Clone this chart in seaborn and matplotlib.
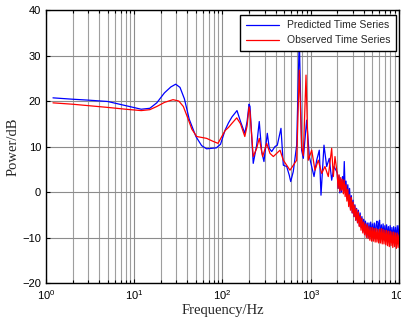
import numpy as np
import pandas as pd
import matplotlib
matplotlib.use('Agg')
import matplotlib.pyplot as plt
import seaborn as sns
from matplotlib.ticker import LogLocator, NullFormatter

# Predicted series (blue)
freq_pred = [1.2, 2, 3, 5, 8, 12, 15, 18, 22, 26, 29.5, 33, 37, 42, 50, 58, 66, 75, 85, 95,
             107, 117, 128, 146, 160, 179, 190, 200, 205, 223, 244, 261, 278, 295, 322, 339,
             361, 394, 418, 460, 489, 534, 571, 593, 634, 693, 742, 789, 824, 899, 964,
             1026, 1090, 1168, 1250, 1307, 1413, 1516, 1622, 1727, 1834, 1968]
pow_pred = [20.7, 20.4, 20.2, 19.9, 19.0, 18.2, 18.4, 19.6, 21.8, 23.1, 23.7, 23.0, 20.5, 16.0,
            12.2, 10.2, 9.5, 9.6, 9.7, 10.5, 13.6, 15.2, 16.5, 17.9, 15.5, 12.9, 15.5, 19.3,
            18.8, 6.3, 10.3, 15.5, 8.9, 6.7, 12.9, 9.6, 8.9, 10.0, 10.3, 14.0, 5.9, 5.6, 3.7,
            2.3, 4.5, 10.3, 34.0, 9.2, 7.4, 15.8, 7.8, 5.6, 3.4, 7.0, 9.2, -0.7, 10.3, 5.6,
            7.4, 2.6, 5.6, 4.5]

# Observed series (red)
freq_obs = [1.2, 2, 3, 5, 8, 12, 15, 18, 22, 27.5, 32, 36, 40, 45, 51, 58, 66, 77, 89, 100,
            107, 117, 128, 145, 160, 179, 190, 200, 205, 223, 244, 261, 285, 317, 345, 377,
            411, 449, 489, 534, 582, 634, 693, 742, 789, 824, 884, 938, 1026, 1117, 1218,
            1330, 1449, 1581, 1727, 1803, 1883]
pow_obs = [19.6, 19.3, 19.0, 18.6, 18.2, 17.9, 18.1, 18.8, 19.7, 20.3, 20.0, 18.8, 16.5, 13.8,
           12.2, 12.0, 11.8, 11.2, 10.7, 12.5, 13.5, 14.2, 15.1, 16.3, 15.0, 12.2, 14.5, 18.7,
           17.6, 7.8, 9.6, 11.8, 7.8, 10.7, 8.5, 7.8, 8.5, 9.2, 7.0, 5.9, 4.8, 5.9, 7.0, 26.8,
           10.0, 8.0, 25.7, 7.0, 9.2, 4.8, 7.0, 4.1, 5.6, 3.4, 9.6, 3.4, 7.8]

# dense high-frequency part (2 kHz - 10 kHz)
freq_hf = [1995, 2042, 2089, 2138, 2188, 2239, 2291, 2344, 2399, 2455, 2512, 2570, 2630, 2692,
           2754, 2818, 2884, 2951, 3020, 3090, 3162, 3236, 3311, 3388, 3467, 3548, 3631, 3715,
           3802, 3890, 3981, 4074, 4169, 4266, 4365, 4467, 4571, 4677, 4786, 4898, 5012, 5129,
           5248, 5370, 5495, 5623, 5754, 5888, 6026, 6166, 6310, 6457, 6607, 6761, 6918, 7079,
           7244, 7413, 7586, 7762, 7943, 8128, 8318, 8511, 8710, 8913, 9120, 9333, 9550, 9772,
           10000]
pow_pred_hf = [4.2, 0.8, 3.6, -0.2, 2.8, 0.0, 3.4, 0.6, 6.7, 0.2, 2.4, -1.4, 1.6, -2.0, 0.8,
               -3.6, -0.8, -4.6, -1.8, -5.4, -2.8, -6.2, -3.6, -6.6, -4.0, -7.4, -4.6, -7.8,
               -5.4, -8.6, -6.0, -9.2, -6.4, -9.6, -6.8, -10.0, -6.8, -9.8, -6.6, -10.2, -7.0,
               -10.0, -6.8, -10.2, -7.2, -6.4, -9.8, -6.8, -6.2, -10.0, -7.2, -10.2, -7.0,
               -10.0, -7.4, -10.4, -7.2, -10.2, -7.6, -10.6, -7.4, -10.4, -7.8, -10.6, -7.6,
               -10.4, -7.8, -10.8, -7.4, -10.2, -7.4]
pow_obs_hf = [4.0, 0.8, 3.8, 0.2, 3.2, 0.4, 2.8, -0.4, 2.6, -1.0, 1.6, -2.0, 0.6, -3.2, -0.6,
              -4.0, -1.2, -4.6, -2.2, -5.4, -3.0, -6.2, -3.8, -6.8, -4.4, -7.6, -5.2, -8.4,
              -5.8, -9.0, -6.6, -9.4, -7.0, -10.0, -7.2, -10.2, -7.6, -10.6, -7.8, -10.8,
              -7.8, -10.8, -8.0, -11.0, -8.0, -11.0, -8.2, -11.2, -8.2, -11.2, -8.0, -11.4,
              -8.2, -11.4, -8.4, -11.6, -8.4, -11.8, -8.6, -12.0, -8.6, -11.8, -8.8, -12.2,
              -8.8, -12.0, -9.0, -12.4, -9.0, -12.2, -9.4]

pred = pd.DataFrame({'f': freq_pred + freq_hf, 'p': pow_pred + pow_pred_hf})
obs = pd.DataFrame({'f': freq_obs + freq_hf, 'p': pow_obs + pow_obs_hf})

sns.set_theme(style='white')
plt.rcParams['font.family'] = ['Liberation Sans', 'DejaVu Sans']
plt.rcParams['mathtext.fontset'] = 'custom'
plt.rcParams['mathtext.rm'] = 'Liberation Sans'

fig = plt.figure(figsize=(4.02, 3.24), dpi=100)
ax = fig.add_axes([0.1144, 0.1265, 0.8781, 0.8425])

sns.lineplot(data=pred, x='f', y='p', ax=ax, color='#0000ff', lw=0.9,
             sort=False, label='Predicted Time Series', zorder=3)
sns.lineplot(data=obs, x='f', y='p', ax=ax, color='#ff0000', lw=0.9,
             sort=False, label='Observed Time Series', zorder=4)

ax.set_xscale('log')
ax.set_xlim(1, 1e4)
ax.set_ylim(-20, 40)
ax.set_yticks([-20, -10, 0, 10, 20, 30, 40])
ax.xaxis.set_major_locator(LogLocator(base=10, numticks=10))
ax.xaxis.set_minor_locator(LogLocator(base=10, subs=np.arange(2, 10), numticks=20))
ax.xaxis.set_minor_formatter(NullFormatter())

ax.grid(True, which='major', axis='both', color='0.55', lw=0.8, ls='-')
ax.grid(True, which='minor', axis='x', color='0.62', lw=0.8, ls='-')
ax.set_axisbelow(True)

ax.tick_params(which='both', direction='in', top=True, right=True, bottom=True, left=True,
               colors='black', labelsize=8, width=0.8)
ax.tick_params(which='major', length=3)
ax.tick_params(which='minor', length=2)
for s in ax.spines.values():
    s.set_color('black')
    s.set_linewidth(1.0)

ax.set_xlabel('Frequency/Hz', family='Liberation Serif', fontsize=10.5, labelpad=2)
ax.set_ylabel('Power/dB', family='Liberation Serif', fontsize=10.5, labelpad=2)

leg = ax.legend(loc='upper right', bbox_to_anchor=(0.9915, 0.982), borderaxespad=0,
                fontsize=7.5, handlelength=3.2, frameon=True, fancybox=False,
                framealpha=1, edgecolor='black', borderpad=0.5, labelspacing=0.5)
leg.get_frame().set_linewidth(1.0)
leg.set_zorder(10)

fig.savefig('out.png', dpi=100)
